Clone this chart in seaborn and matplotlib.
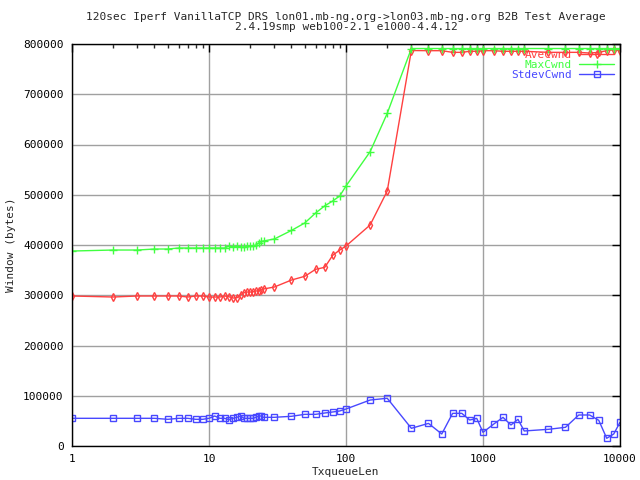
import matplotlib
matplotlib.use("Agg")
import matplotlib.pyplot as plt
import matplotlib.ticker as mticker
import seaborn as sns
import pandas as pd

# TxqueueLen values
txqueuelen = list(range(1, 26)) + [30, 40, 50, 60, 70, 80, 90, 100, 150, 200,
              300, 400, 500, 600, 700, 800, 900, 1000,
              1200, 1400, 1600, 1800, 2000,
              3000, 4000, 5000, 6000, 7000, 8000, 9000, 10000]

ave_cwnd = [298500, 296500, 298500, 298500, 298500, 298500, 296500, 298500, 298500, 296500,
            296500, 296500, 298500, 297000, 294500, 295000, 301000, 305000, 306500, 306500,
            307000, 308500, 309000, 310500, 312500, 316400, 330300, 337700, 351600, 355600,
            379500, 390000, 398000, 439800, 507500,
            787000, 786700, 786700, 783400, 783400, 785500, 785500, 786700,
            786700, 785500, 785500, 785500, 785500,
            783400, 783400, 783400, 782000, 783400, 786700, 788500, 786700]

max_cwnd = [388000, 390000, 390000, 392000, 392000, 394000, 394000, 394000, 394000, 394000,
            394000, 394000, 394000, 398000, 396000, 398000, 396000, 396000, 398000, 398000,
            398000, 400000, 404000, 407000, 408000, 412000, 429000, 443800, 463700, 478000,
            487600, 497500, 517400, 585700, 662000,
            791000, 791000, 791000, 791000, 791000, 791000, 791000, 791000,
            791000, 791000, 791000, 791000, 791000,
            791000, 791000, 791000, 791000, 791000, 791000, 791000, 791000]

stdev_cwnd = [55100, 55100, 55100, 55100, 53100, 55100, 55100, 53100, 53100, 55100,
              59700, 55100, 55100, 52400, 55100, 57100, 59700, 55100, 55100, 55100,
              55100, 57100, 59700, 59700, 57100, 57100, 59100, 63000, 63000, 65700,
              67700, 69700, 73600, 91500, 95000,
              35200, 45000, 23900, 65000, 65000, 51700, 55000, 27200,
              43800, 57000, 41800, 53000, 29900,
              33200, 37200, 61700, 61700, 51100, 15300, 23900, 47100]

series = ["AveCwnd", "MaxCwnd", "StdevCwnd"]
colors = {"AveCwnd": "#ff4040", "MaxCwnd": "#40ff40", "StdevCwnd": "#4848ff"}
markers = {"AveCwnd": "d", "MaxCwnd": "+", "StdevCwnd": "s"}
msizes = {"AveCwnd": 4, "MaxCwnd": 6, "StdevCwnd": 4}

df = pd.concat([
    pd.DataFrame({"TxqueueLen": txqueuelen, "Window": ave_cwnd, "series": "AveCwnd"}),
    pd.DataFrame({"TxqueueLen": txqueuelen, "Window": max_cwnd, "series": "MaxCwnd"}),
    pd.DataFrame({"TxqueueLen": txqueuelen, "Window": stdev_cwnd, "series": "StdevCwnd"}),
])

sns.set_style("white")
plt.rcParams["font.family"] = ["DejaVu Sans Mono"]
plt.rcParams["font.size"] = 8

fig = plt.figure(figsize=(6.4, 4.8), dpi=100)
ax = fig.add_axes([72 / 640, 34 / 480, 548 / 640, 402 / 480])

for name in series:
    sub = df[df["series"] == name]
    sns.lineplot(data=sub, x="TxqueueLen", y="Window", ax=ax, color=colors[name],
                 marker=markers[name], markersize=msizes[name],
                 markerfacecolor="none", markeredgecolor=colors[name],
                 markeredgewidth=1, linewidth=1, label=name, estimator=None)

ax.set_xscale("log")
ax.set_xlim(1, 10000)
ax.set_ylim(0, 800000)
ax.xaxis.set_major_locator(mticker.LogLocator(base=10))
ax.xaxis.set_minor_locator(mticker.LogLocator(base=10, subs=range(2, 10)))
ax.xaxis.set_major_formatter(mticker.FuncFormatter(lambda v, p: "%d" % v))
ax.xaxis.set_minor_formatter(mticker.NullFormatter())
ax.yaxis.set_major_locator(mticker.MultipleLocator(100000))
ax.yaxis.set_major_formatter(mticker.FuncFormatter(lambda v, p: "%d" % v))

ax.grid(True, which="major", color="#a0a0a0", linewidth=1)
ax.set_axisbelow(True)
for s in ax.spines.values():
    s.set_color("black")
    s.set_linewidth(1)
ax.tick_params(which="major", direction="in", length=6, width=1, top=True, right=True,
               labelsize=8, pad=6, colors="black")
ax.tick_params(which="minor", direction="in", length=3, width=1, top=True, right=True)

ax.set_xlabel("TxqueueLen", fontsize=8, labelpad=2)
ax.set_ylabel("Window (bytes)", fontsize=8)
ax.yaxis.set_label_coords(-0.102, 0.5)
ax.set_title("120sec Iperf VanillaTCP DRS lon01.mb-ng.org->lon03.mb-ng.org B2B Test Average\n"
             "2.4.19smp web100-2.1 e1000-4.4.12", fontsize=8, pad=10, linespacing=1.0)

ax.legend(loc="upper right", frameon=False, markerfirst=False, labelcolor="linecolor",
          fontsize=8, handlelength=3.2, labelspacing=0.0, borderaxespad=0.1,
          handletextpad=0.6)

fig.savefig("out.png", dpi=100)
